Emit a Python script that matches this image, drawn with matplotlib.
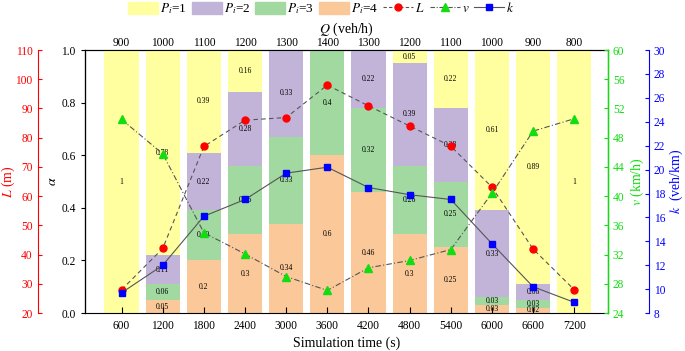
"""
Queue length / speed / density vs. simulation time, with stacked
alpha-share bars for each P_i level.
"""
import matplotlib
matplotlib.use("Agg")
import matplotlib.pyplot as plt
from matplotlib.patches import Patch
from matplotlib.lines import Line2D
import numpy as np

plt.rcParams["font.family"] = ["Liberation Serif", "DejaVu Serif"]
plt.rcParams["mathtext.fontset"] = "stix"

# --------------------------------------------------------------------------
# Data
# --------------------------------------------------------------------------
sim_time = [600, 1200, 1800, 2400, 3000, 3600, 4200, 4800, 5400, 6000, 6600, 7200]
flow_q = [900, 1000, 1100, 1200, 1300, 1400, 1300, 1200, 1100, 1000, 900, 800]

# alpha share per P_i level (bottom -> top: P_i=4, 3, 2, 1)
p4 = [0, 0.05, 0.20, 0.30, 0.34, 0.60, 0.46, 0.30, 0.25, 0.03, 0.02, 0]
p3 = [0, 0.06, 0.19, 0.26, 0.33, 0.40, 0.32, 0.26, 0.25, 0.03, 0.03, 0]
p2 = [0, 0.11, 0.22, 0.28, 0.33, 0, 0.22, 0.39, 0.28, 0.33, 0.06, 0]
p1 = [1, 0.78, 0.39, 0.16, 0, 0, 0, 0.05, 0.22, 0.61, 0.89, 1]

queue_L = [28.0, 42.1, 77.0, 86.0, 86.9, 98.0, 90.9, 84.0, 77.1, 63.1, 41.9, 28.0]
speed_v = [50.5, 45.8, 35.0, 32.1, 29.0, 27.1, 30.2, 31.2, 32.7, 40.4, 48.9, 50.6]
density_k = [9.7, 12.0, 16.1, 17.5, 19.7, 20.2, 18.5, 17.9, 17.5, 13.8, 10.2, 8.9]

# --------------------------------------------------------------------------
# Style
# --------------------------------------------------------------------------
LEVEL_COLORS = ["#FAC899", "#A1D9A0", "#C2B4D9", "#FFFFA0"]  # P=4,3,2,1
RED, GREEN, BLUE = "#FF0000", "#11DD11", "#0000FF"
LINE_GRAY = "#555555"
TICK_FS = 8.3

fig = plt.figure(figsize=(6.85, 3.51), dpi=100)
ax = fig.add_axes([0.124, 0.108, 0.7636, 0.7495])

x = np.arange(len(sim_time))
bottom = np.zeros(len(x))
for vals, col in zip([p4, p3, p2, p1], LEVEL_COLORS):
    vals = np.array(vals)
    ax.bar(x, vals, bottom=bottom, width=0.83, color=col, linewidth=0)
    for xi, b, v in zip(x, bottom, vals):
        if v > 0:
            ax.text(xi, b + v / 2, f"{v:g}", ha="center", va="center", fontsize=5.5)
    bottom += vals

ax.set_xlim(-0.89, 11.82)
ax.set_ylim(0, 1)
ax.set_xticks(x)
ax.set_xticklabels([str(t) for t in sim_time], fontsize=TICK_FS)
ax.set_yticks([0, 0.2, 0.4, 0.6, 0.8, 1.0])
ax.set_yticklabels(["0.0", "0.2", "0.4", "0.6", "0.8", "1.0"], fontsize=TICK_FS)
ax.tick_params(axis="x", direction="in", length=4, pad=5)
ax.tick_params(axis="y", direction="out", length=3)
ax.set_xlabel("Simulation time (s)", fontsize=10, labelpad=3)
ax.set_ylabel(r"$\alpha$", fontsize=10, labelpad=2)

top = ax.secondary_xaxis("top")
top.set_xticks(x)
top.set_xticklabels([str(q) for q in flow_q], fontsize=TICK_FS)
top.tick_params(direction="in", length=4, pad=1)
top.set_xlabel(r"$Q$ (veh/h)", fontsize=10, labelpad=3)

# L axis (red, offset on the left)
axL = ax.twinx()
axL.spines["left"].set_visible(True)
axL.spines["left"].set_position(("axes", -0.0905))
axL.spines["left"].set_color(RED)
axL.spines["right"].set_visible(False)
axL.yaxis.set_ticks_position("left")
axL.yaxis.set_label_position("left")
axL.set_ylim(20, 110)
axL.set_yticks(range(20, 111, 10))
axL.tick_params(axis="y", direction="in", colors=RED, labelsize=TICK_FS, length=3)
axL.set_ylabel(r"$L$ (m)", color=RED, fontsize=10, labelpad=-1)
axL.plot(x, queue_L, ls=(0, (4, 3)), color=LINE_GRAY, lw=0.8,
         marker="o", ms=5, mfc=RED, mec=RED)

# v axis (green, on the right frame)
axV = ax.twinx()
axV.spines["right"].set_color(GREEN)
axV.spines["right"].set_linewidth(1.0)
axV.set_ylim(24, 60)
axV.set_yticks(range(24, 61, 4))
axV.tick_params(axis="y", direction="in", colors=GREEN, labelsize=TICK_FS, length=3)
axV.set_ylabel(r"$v$ (km/h)", color=GREEN, fontsize=10, labelpad=3)
axV.plot(x, speed_v, ls=(0, (5, 2, 1, 2)), color=LINE_GRAY, lw=0.8,
         marker="^", ms=5.5, mfc=GREEN, mec=GREEN)

# k axis (blue, offset on the right)
axK = ax.twinx()
axK.spines["right"].set_position(("axes", 1.078))
axK.spines["right"].set_color(BLUE)
axK.set_ylim(8, 30)
axK.set_yticks(range(8, 31, 2))
axK.tick_params(axis="y", direction="in", colors=BLUE, labelsize=TICK_FS, length=3)
axK.set_ylabel(r"$k$  (veh/km)", color=BLUE, fontsize=10, labelpad=2)
axK.plot(x, density_k, ls="-", color=LINE_GRAY, lw=0.8,
         marker="s", ms=4.3, mfc=BLUE, mec=BLUE)

for a in (axL, axV, axK):
    a.spines["top"].set_visible(False)
    a.spines["bottom"].set_visible(False)

# --------------------------------------------------------------------------
# Legend
# --------------------------------------------------------------------------
handles = [Patch(color=c) for c in LEVEL_COLORS[::-1]] + [
    Line2D([], [], ls=(0, (3, 2)), color=LINE_GRAY, lw=0.8, marker="o", ms=5,
           mfc=RED, mec=RED),
    Line2D([], [], ls=(0, (4, 1.5, 1, 1.5)), color=LINE_GRAY, lw=0.8, marker="^",
           ms=5.5, mfc=GREEN, mec=GREEN),
    Line2D([], [], ls="-", color=LINE_GRAY, lw=0.8, marker="s", ms=4.3,
           mfc=BLUE, mec=BLUE),
]
labels = [r"$P_i$=1", r"$P_i$=2", r"$P_i$=3", r"$P_i$=4", r"$L$", r"$v$", r"$k$"]
fig.legend(handles, labels, loc="center", bbox_to_anchor=(0.469, 0.975),
           ncol=7, frameon=False, fontsize=9.5, handlelength=2.3,
           handleheight=1.1, columnspacing=0.35, handletextpad=0.15,
           borderpad=0)

fig.savefig("out.png", dpi=100)
